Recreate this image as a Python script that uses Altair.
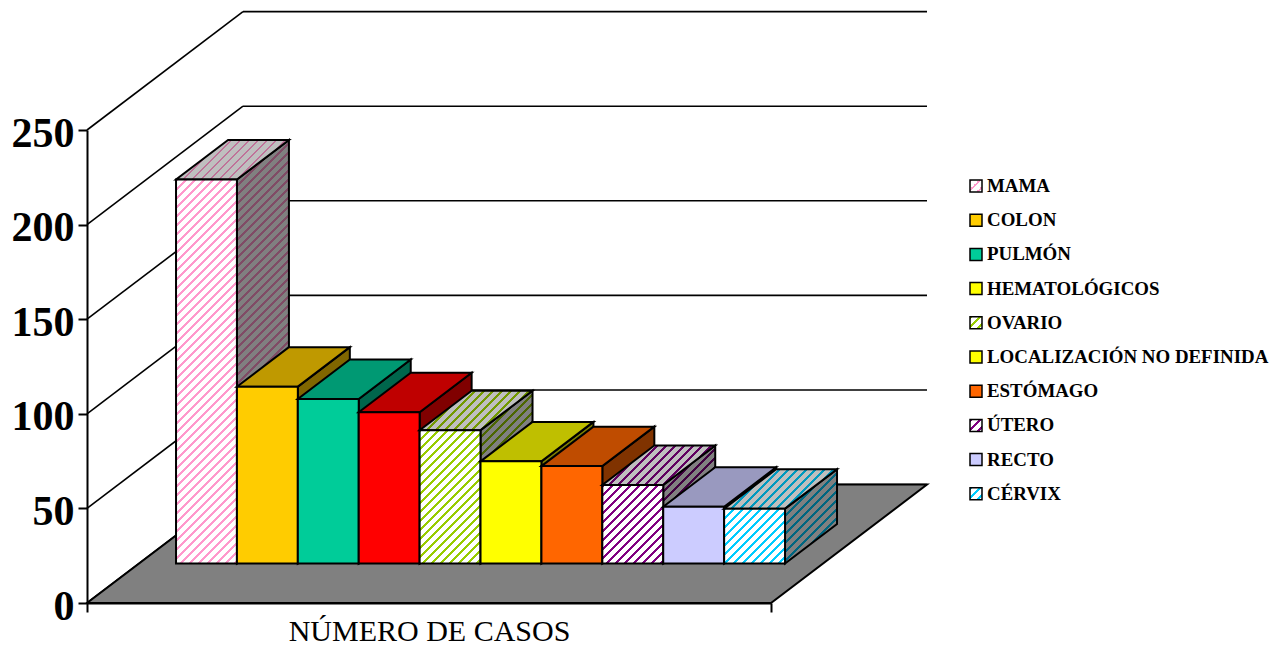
import altair as alt
import pandas as pd

# ---- data ----
categories = ["MAMA", "COLON", "PULMÓN", "HEMATOLÓGICOS", "OVARIO",
              "LOCALIZACIÓN NO DEFINIDA", "ESTÓMAGO", "ÚTERO", "RECTO", "CÉRVIX"]
values = [203, 93.5, 87, 80, 70.5, 54, 51.5, 41.5, 30, 29]
bar_colors = ["#FF99CC", "#FFCC00", "#00CC99", "#FF0000", "#99CC00",
              "#FFFF00", "#FF6600", "#800080", "#CCCCFF", "#00CCFF"]
legend_colors = ["#FF99CC", "#FFCC00", "#00CC99", "#FFFF00", "#99CC00",
                 "#FFFF00", "#FF6600", "#800080", "#CCCCFF", "#00CCFF"]
striped = [True, False, False, False, True, False, False, True, False, True]
y_ticks = [0, 50, 100, 150, 200, 250]
axis_title = "NÚMERO DE CASOS"

# ---- geometry of the oblique projection ----
PX_W, PX_H = 684, 473            # front floor edge / front axis height, px
Y_MAX = 250
BAR_PX = 60.9                    # px per category
X_MIN = -0.608
X_MAX = X_MIN + PX_W / BAR_PX
DEPTH_PX_X, DEPTH_PX_Y = 156, 118.4
SX = DEPTH_PX_X / BAR_PX         # x units per unit of depth
SY = DEPTH_PX_Y * Y_MAX / PX_H   # y units per unit of depth
Z0, Z1 = 1 / 3, 2 / 3
PERIOD = 9.0
STRIPE = 0.33
LINE_W = 2
GRID_W = 1.6


def px(i, z):
    return i + SX * z


def py(v, z):
    return v + SY * z


def shade(color, f):
    r, g, b = (int(color[k:k + 2], 16) for k in (1, 3, 5))
    return "#%02X%02X%02X" % (round(r * f), round(g * f), round(b * f))


def hatch(bg, fg, w, h):
    """Diagonal stripes as a hard-stop linear gradient on a w x h px box."""
    length = w + h
    k = length / (w * w + h * h)
    stops = []
    n = 0
    while n * PERIOD < length:
        a = n * PERIOD / length
        b = min(1, (n + STRIPE) * PERIOD / length)
        c = min(1, (n + 1) * PERIOD / length)
        stops += [dict(offset=a, color=fg), dict(offset=b, color=fg),
                  dict(offset=b, color=bg), dict(offset=c, color=bg)]
        n += 1
    return dict(gradient="linear", x1=0, y1=0, x2=w * k, y2=h * k, stops=stops)


def fill_for(color, is_striped, factor, w, h):
    if is_striped:
        return hatch(shade("#FFFFFF", factor), shade(color, factor), w, h)
    return shade(color, factor)


X = alt.Scale(domain=[X_MIN, X_MAX], nice=False, zero=False)
Y = alt.Scale(domain=[0, Y_MAX], nice=False, zero=False)
xe = lambda f="x": alt.X(f"{f}:Q", scale=X)
ye = lambda f="y": alt.Y(f"{f}:Q", scale=Y)

layers = []

# axes (real Vega axes)
axis_df = pd.DataFrame({"x": [X_MIN, X_MAX], "y": [0, 0]})
axes = alt.Chart(axis_df).mark_line(opacity=0).encode(
    x=alt.X("x:Q", scale=X, title=axis_title,
            axis=alt.Axis(values=[X_MIN, X_MAX], labels=False, grid=False, tickSize=9,
                          tickColor="black", tickWidth=LINE_W, domainColor="black", domainWidth=LINE_W,
                          titleFont="Liberation Serif", titleFontSize=30, titleFontWeight="normal",
                          titleColor="black", titlePadding=3)),
    y=alt.Y("y:Q", scale=Y, title=None,
            axis=alt.Axis(values=y_ticks, grid=False, tickSize=9, tickColor="black", tickWidth=LINE_W,
                          domainColor="black", domainWidth=LINE_W, labelFont="Liberation Serif",
                          labelFontSize=42, labelFontWeight="bold", labelColor="black",
                          labelPadding=4, labelOffset=3)),
)
layers.append(axes)

# wall grid lines
grid_df = pd.DataFrame([
    dict(x=X_MIN, x2=px(X_MIN, 1), y=v, y2=py(v, 1)) for v in y_ticks
] + [
    dict(x=px(X_MIN, 1), x2=px(X_MAX, 1), y=py(v, 1), y2=py(v, 1)) for v in y_ticks
])
layers.append(alt.Chart(grid_df).mark_rule(color="black", strokeWidth=GRID_W).encode(
    x=xe(), x2="x2:Q", y=ye(), y2="y2:Q"))

# floor
floor_df = pd.DataFrame([
    dict(x=px(X_MIN, z), x2=px(X_MAX, z), y=py(0, z)) for z in (0, 1)
])
layers.append(alt.Chart(floor_df).mark_area(
    orient="horizontal", fill="#808080", stroke="black", strokeWidth=LINE_W
).encode(x=xe(), x2="x2:Q", y=ye()))

# bars, painted left to right
D_X = DEPTH_PX_X * (Z1 - Z0)
D_Y = DEPTH_PX_Y * (Z1 - Z0)
for i, (v, c, s) in enumerate(zip(values, bar_colors, striped)):
    h_px = v * PX_H / Y_MAX
    side = pd.DataFrame([
        dict(x=px(i + 1, z), y=py(v, z), y2=py(0, z)) for z in (Z0, Z1)
    ])
    top = pd.DataFrame([
        dict(x=px(i, z), x2=px(i + 1, z), y=py(v, z)) for z in (Z0, Z1)
    ])
    front = pd.DataFrame([
        dict(x=px(i, Z0), x2=px(i + 1, Z0), y=py(v, Z0), y2=py(0, Z0))
    ])
    layers.append(alt.Chart(side).mark_area(
        orient="vertical", fill=fill_for(c, s, 0.5, D_X, h_px + D_Y),
        stroke="black", strokeWidth=LINE_W
    ).encode(x=xe(), y=ye(), y2="y2:Q"))
    layers.append(alt.Chart(top).mark_area(
        orient="horizontal", fill=fill_for(c, s, 0.75, BAR_PX + D_X, D_Y),
        stroke="black", strokeWidth=LINE_W
    ).encode(x=xe(), x2="x2:Q", y=ye()))
    layers.append(alt.Chart(front).mark_rect(
        fill=fill_for(c, s, 1.0, BAR_PX, h_px), stroke="black", strokeWidth=LINE_W
    ).encode(x=xe(), x2="x2:Q", y=ye(), y2="y2:Q"))

# legend, laid out in plot pixels
LEG_SWATCH_X, LEG_TEXT_X = 970 - 87, 987 - 87
LEG_TOP, LEG_STEP = 186 - 130, 34.2
for i, (name, c, s) in enumerate(zip(categories, legend_colors, striped)):
    yc = LEG_TOP + i * LEG_STEP
    row = pd.DataFrame({"name": [name]})
    layers.append(alt.Chart(row).mark_rect(
        fill=fill_for(c, s, 1.0, 12, 12), stroke="black", strokeWidth=1.5
    ).encode(x=alt.value(LEG_SWATCH_X), x2=alt.value(LEG_SWATCH_X + 12),
             y=alt.value(yc - 6), y2=alt.value(yc + 6)))
    layers.append(alt.Chart(row).mark_text(
        align="left", baseline="middle", font="Liberation Serif", fontWeight="bold",
        fontSize=18.9, color="black"
    ).encode(x=alt.value(LEG_TEXT_X), y=alt.value(yc), text="name:N"))

chart = alt.layer(*layers).properties(
    width=PX_W, height=PX_H,
    padding={"left": 79, "top": 122, "right": 499, "bottom": 45},
    autosize=alt.AutoSizeParams(type="none"),
).configure_view(stroke=None)

chart.save("out.html", embed_options={"renderer": "svg", "actions": False})
